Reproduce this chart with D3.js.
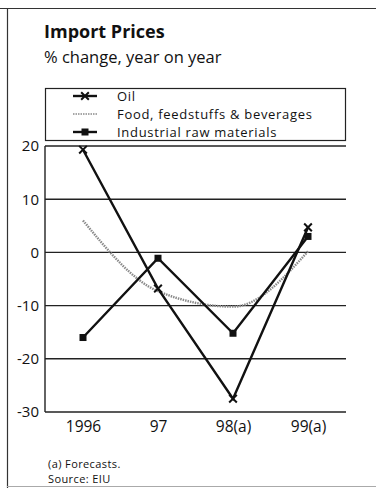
<!DOCTYPE html>
<html>
<head>
<meta charset="utf-8">
<script src="https://cdn.jsdelivr.net/npm/d3@7"></script>
<style>
  html, body { margin: 0; padding: 0; background: #fff; }
  svg { display: block; }
  text { font-family: "Open Sans", "Lato", sans-serif; fill: #111; }
</style>
</head>
<body>
<svg id="chart" width="376" height="488"></svg>
<script>
// Import prices, % change year on year
const years = ["1996", "97", "98(a)", "99(a)"];
const oil = [19.3, -6.8, -27.5, 4.7];
const food = [6.0, -7.3, -10.2, 0.2];
const industrial = [-16.0, -1.1, -15.2, 3.0];
const yTicks = [20, 10, 0, -10, -20, -30];
const seriesNames = ["Oil", "Food, feedstuffs & beverages", "Industrial raw materials"];

const svg = d3.select("#chart");

// outer frame: top and left rules, faint bottom rule
svg.append("line").attr("x1", 0).attr("x2", 376).attr("y1", 8.5).attr("y2", 8.5)
  .attr("stroke", "#333").attr("stroke-width", 1.2);
svg.append("line").attr("x1", 7.5).attr("x2", 7.5).attr("y1", 8).attr("y2", 488)
  .attr("stroke", "#333").attr("stroke-width", 1.2);
svg.append("line").attr("x1", 7).attr("x2", 376).attr("y1", 486.5).attr("y2", 486.5)
  .attr("stroke", "#aaa").attr("stroke-width", 1);

// titles
svg.append("text").attr("x", 44).attr("y", 38).attr("font-size", 18).attr("font-weight", 700)
  .text("Import Prices");
svg.append("text").attr("x", 44).attr("y", 63).attr("font-size", 16.5)
  .text("% change, year on year");

const plot = { left: 45, right: 346, top: 146, bottom: 412 };

const x = d3.scalePoint().domain(years).range([83, 308]);
const y = d3.scaleLinear().domain([-30, 20]).range([plot.bottom, plot.top]);

// gridlines
svg.append("g").selectAll("line").data(yTicks).join("line")
  .attr("x1", plot.left).attr("x2", plot.right)
  .attr("y1", d => y(d)).attr("y2", d => y(d))
  .attr("stroke", "#222").attr("stroke-width", 1.4);

// left axis rule
svg.append("line").attr("x1", plot.left).attr("x2", plot.left)
  .attr("y1", plot.top).attr("y2", plot.bottom)
  .attr("stroke", "#222").attr("stroke-width", 1.4);

// y axis labels (plain hyphen for negatives)
const yAxis = d3.axisLeft(y).tickValues(yTicks).tickSize(0).tickPadding(6).tickFormat(d => String(d));
const gy = svg.append("g").attr("transform", `translate(${plot.left},0)`).call(yAxis);
gy.select(".domain").remove();
gy.selectAll("text").attr("font-size", 15).attr("font-family", "'Open Sans', sans-serif").attr("fill", "#111");

// x axis labels
const xAxis = d3.axisBottom(x).tickSize(0).tickPadding(9);
const gx = svg.append("g").attr("transform", `translate(0,${plot.bottom})`).call(xAxis);
gx.select(".domain").remove();
gx.selectAll("text").attr("font-size", 15.5).attr("font-family", "'Open Sans', sans-serif").attr("fill", "#111");

const line = d3.line().x((d, i) => x(years[i])).y(d => y(d));
const smooth = d3.line().x((d, i) => x(years[i])).y(d => y(d)).curve(d3.curveMonotoneX);

// food series: dotted grey curve
svg.append("path").datum(food).attr("d", smooth)
  .attr("fill", "none").attr("stroke", "#8a8a8a").attr("stroke-width", 2.4)
  .attr("stroke-dasharray", "1.5,1");

// oil series
svg.append("path").datum(oil).attr("d", line)
  .attr("fill", "none").attr("stroke", "#111").attr("stroke-width", 2.4);
svg.append("g").selectAll("path").data(oil).join("path")
  .attr("transform", (d, i) => `translate(${x(years[i])},${y(d)})`)
  .attr("d", d3.symbol(d3.symbolTimes, 40))
  .attr("fill", "none").attr("stroke", "#111").attr("stroke-width", 2);

// industrial raw materials series
svg.append("path").datum(industrial).attr("d", line)
  .attr("fill", "none").attr("stroke", "#111").attr("stroke-width", 2.4);
svg.append("g").selectAll("rect").data(industrial).join("rect")
  .attr("x", (d, i) => x(years[i]) - 3.5).attr("y", d => y(d) - 3.5)
  .attr("width", 7).attr("height", 7).attr("fill", "#111");

// legend
const legend = svg.append("g");
legend.append("rect").attr("x", 45.5).attr("y", 88.5).attr("width", 300).attr("height", 52)
  .attr("fill", "#fff").attr("stroke", "#222").attr("stroke-width", 1.2);
const ly = [96, 114, 132];
const lx0 = 73, lx1 = 97;
// oil
legend.append("line").attr("x1", lx0).attr("x2", lx1).attr("y1", ly[0]).attr("y2", ly[0])
  .attr("stroke", "#111").attr("stroke-width", 2.4);
legend.append("path").attr("transform", `translate(${(lx0 + lx1) / 2},${ly[0]})`)
  .attr("d", d3.symbol(d3.symbolTimes, 40)).attr("fill", "none").attr("stroke", "#111").attr("stroke-width", 2);
// food
legend.append("line").attr("x1", lx0).attr("x2", lx1).attr("y1", ly[1]).attr("y2", ly[1])
  .attr("stroke", "#8a8a8a").attr("stroke-width", 1.6).attr("stroke-dasharray", "1.5,1");
// industrial
legend.append("line").attr("x1", lx0).attr("x2", lx1).attr("y1", ly[2]).attr("y2", ly[2])
  .attr("stroke", "#111").attr("stroke-width", 2.4);
legend.append("rect").attr("x", (lx0 + lx1) / 2 - 3.5).attr("y", ly[2] - 3.5)
  .attr("width", 7).attr("height", 7).attr("fill", "#111");
legend.selectAll("text.lbl").data(seriesNames).join("text").attr("class", "lbl")
  .attr("x", 117).attr("y", (d, i) => ly[i] + 5).attr("font-size", 13)
  .attr("letter-spacing", 0.7).text(d => d);

// footnotes
svg.append("text").attr("x", 48).attr("y", 468).attr("font-size", 11)
  .attr("letter-spacing", 0.4).text("(a) Forecasts.");
svg.append("text").attr("x", 48).attr("y", 483).attr("font-size", 11)
  .attr("letter-spacing", 0.4).text("Source: EIU");
</script>
</body>
</html>
